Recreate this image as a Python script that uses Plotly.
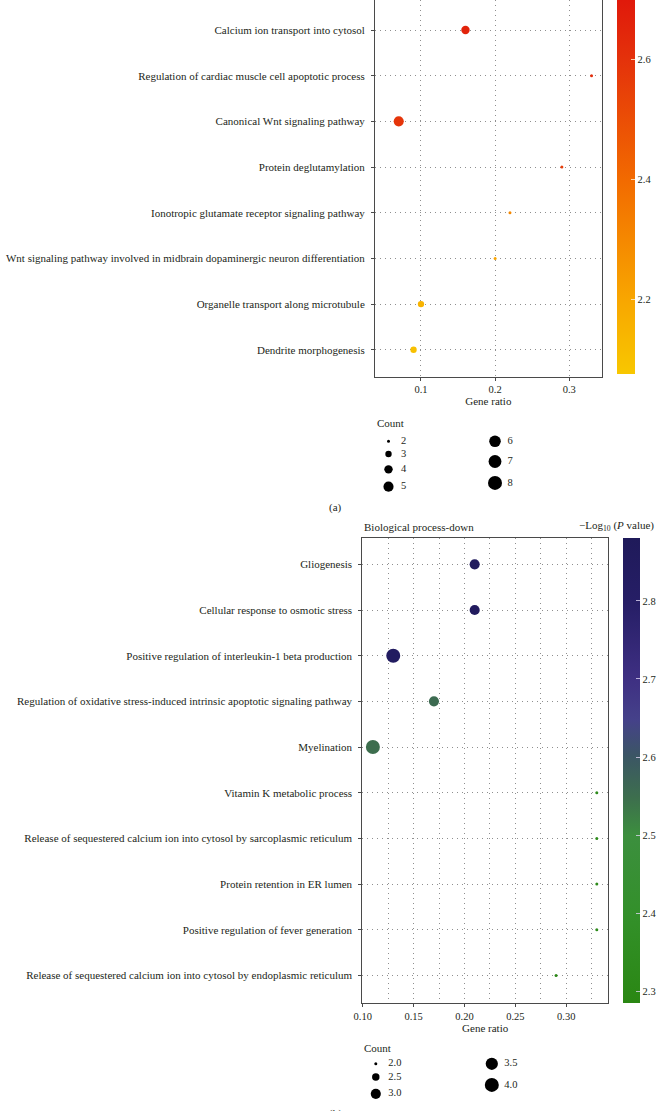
import math
import plotly.graph_objects as go

W, H = 658, 1111
FONT = "Liberation Serif"
TXT = "#231f20"
GRID = "#8f8f8f"
AXC = "#4a4a4a"

# ---------------- panel (a) data (listed top -> bottom) ----------------
terms_a = [
    "Calcium ion transport into cytosol",
    "Regulation of cardiac muscle cell apoptotic process",
    "Canonical Wnt signaling pathway",
    "Protein deglutamylation",
    "Ionotropic glutamate receptor signaling pathway",
    "Wnt signaling pathway involved in midbrain dopaminergic neuron differentiation",
    "Organelle transport along microtubule",
    "Dendrite morphogenesis",
]
ratio_a = [0.16, 0.33, 0.07, 0.29, 0.22, 0.20, 0.10, 0.09]
count_a = [4, 2, 5, 2, 2, 2, 3, 3]
logp_a = [2.66, 2.62, 2.59, 2.56, 2.30, 2.21, 2.15, 2.10]
legend_counts_a = [2, 3, 4, 5, 6, 7, 8]
xticks_a = [0.1, 0.2, 0.3]
cticks_a = [2.2, 2.4, 2.6]

# ---------------- panel (b) data (listed top -> bottom) ----------------
title_b = "Biological process-down"
terms_b = [
    "Gliogenesis",
    "Cellular response to osmotic stress",
    "Positive regulation of interleukin-1 beta production",
    "Regulation of oxidative stress-induced intrinsic apoptotic signaling pathway",
    "Myelination",
    "Vitamin K metabolic process",
    "Release of sequestered calcium ion into cytosol by sarcoplasmic reticulum",
    "Protein retention in ER lumen",
    "Positive regulation of fever generation",
    "Release of sequestered calcium ion into cytosol by endoplasmic reticulum",
]
ratio_b = [0.21, 0.21, 0.13, 0.17, 0.11, 0.33, 0.33, 0.33, 0.33, 0.29]
count_b = [3, 3, 4, 3, 4, 2, 2, 2, 2, 2]
logp_b = [2.86, 2.85, 2.84, 2.555, 2.55, 2.33, 2.33, 2.33, 2.33, 2.30]
legend_counts_b = [2.0, 2.5, 3.0, 3.5, 4.0]
xticks_b = [0.10, 0.15, 0.20, 0.25, 0.30]
cticks_b = [2.3, 2.4, 2.5, 2.6, 2.7, 2.8]


# ---------------- helpers ----------------
def px_x(p):
    return p / W


def px_y(p):
    return 1 - p / H


def diam(c, lo, hi):
    # ggplot-like area scaling of point size (diameter in px)
    return math.sqrt(9 + (c - lo) / (hi - lo) * (196 - 9))


scale_a = [[0.0, "#f8c700"], [0.2, "#f8a600"], [0.52, "#f26a00"], [0.84, "#e4320b"], [1.0, "#e0190b"]]
scale_b = [[0.0, "#2a8713"], [0.19, "#33902a"], [0.36, "#3c8f3e"], [0.44, "#3d6f4d"],
           [0.53, "#3b5664"], [0.61, "#45418a"], [0.70, "#3e2f82"], [0.86, "#261e66"], [1.0, "#1f1a5a"]]

LAB = 11
TICK = 10.5

fig = go.Figure()

# main scatter traces
fig.add_trace(go.Scatter(
    x=ratio_a, y=terms_a, mode="markers", xaxis="x", yaxis="y", showlegend=False,
    marker=dict(size=[diam(c, min(legend_counts_a), max(legend_counts_a)) for c in count_a],
                color=logp_a, coloraxis="coloraxis", line=dict(width=0), opacity=1),
))
fig.add_trace(go.Scatter(
    x=ratio_b, y=terms_b, mode="markers", xaxis="x2", yaxis="y2", showlegend=False,
    marker=dict(size=[diam(c, min(legend_counts_b), max(legend_counts_b)) for c in count_b],
                color=logp_b, coloraxis="coloraxis2", line=dict(width=0), opacity=1),
))


# size legends drawn in hidden pixel-unit axes
def size_legend(counts, fmt, xa, ya, col2_x, first_gap):
    n1 = math.ceil(len(counts) / 2)
    cols = [counts[:n1], counts[n1:]]
    xs, ys, ds, labels = [], [], [], []
    for ci, col in enumerate(cols):
        cx = 13.5 if ci == 0 else col2_x
        y = 8.3 + first_gap
        prev = None
        for c in col:
            d = diam(c, min(counts), max(counts))
            if prev is not None:
                y += (prev + d) / 2 + 8
            xs.append(cx)
            ys.append(y)
            ds.append(d)
            labels.append(fmt.format(c))
            prev = d
    fig.add_trace(go.Scatter(x=xs, y=ys, mode="markers", xaxis=xa, yaxis=ya, showlegend=False,
                             hoverinfo="skip",
                             marker=dict(size=ds, color="#000000", opacity=1, line=dict(width=0))))
    fig.add_trace(go.Scatter(x=[v + 12.5 for v in xs], y=ys, mode="text", text=labels,
                             textposition="middle right", xaxis=xa, yaxis=ya, showlegend=False,
                             hoverinfo="skip", textfont=dict(family=FONT, size=TICK, color=TXT)))


size_legend(legend_counts_a, "{:d}", "x3", "y3", 120, 18)
size_legend(legend_counts_b, "{:.1f}", "x4", "y4", 129.5, 15.5)

tickfont = dict(family=FONT, size=TICK, color=TXT)
labfont = dict(family=FONT, size=LAB, color=TXT)

common_grid = dict(showgrid=True, gridcolor=GRID, gridwidth=1, griddash="1px,4px", zeroline=False)

# top panel box: x 375..601.7, y 0..376.7
fig.update_layout(
    xaxis=dict(domain=[px_x(375), px_x(601.7)], range=[0.038, 0.3437], anchor="y",
               tickvals=xticks_a, ticktext=["{:.1f}".format(v) for v in xticks_a],
               showline=True, linecolor=AXC, linewidth=1, mirror=False,
               ticks="outside", ticklen=3, tickcolor=AXC, tickfont=tickfont,
               title=dict(text="Gene ratio", font=labfont, standoff=0), **common_grid),
    yaxis=dict(domain=[px_y(376.7), 1], range=[len(terms_a) - 1 + 0.59, -0.657], anchor="x",
               type="category", categoryorder="array", categoryarray=terms_a,
               showline=True, linecolor=AXC, linewidth=1, mirror=True, ticklabelstandoff=4,
               ticks="outside", ticklen=3, tickcolor=AXC, tickfont=labfont, **common_grid),
    # bottom panel box: x 362.3..608, y 538.3..1003.3
    xaxis2=dict(domain=[px_x(362.3), px_x(608)], range=[0.0996, 0.341], anchor="y2",
                tickvals=xticks_b, ticktext=["{:.2f}".format(v) for v in xticks_b],
                minor=dict(tickvals=[v + 0.025 for v in xticks_b], showgrid=True, gridcolor=GRID,
                           griddash="1px,4px", gridwidth=1, ticks=""),
                showline=True, linecolor=AXC, linewidth=1, mirror=True,
                ticks="outside", ticklen=3, tickcolor=AXC, tickfont=tickfont,
                title=dict(text="Gene ratio", font=labfont, standoff=0), **common_grid),
    yaxis2=dict(domain=[px_y(1003.3), px_y(538.3)], range=[len(terms_b) - 1 + 0.61, -0.57], anchor="x2",
                type="category", categoryorder="array", categoryarray=terms_b,
                showline=True, linecolor=AXC, linewidth=1, mirror=True, ticklabelstandoff=4,
                ticks="outside", ticklen=3, tickcolor=AXC, tickfont=labfont, **common_grid),
    # legend axes (1 unit = 1 px)
    xaxis3=dict(domain=[px_x(375), px_x(600)], range=[0, 225], visible=False, anchor="y3", fixedrange=True),
    yaxis3=dict(domain=[px_y(500), px_y(415)], range=[85, 0], visible=False, anchor="x3", fixedrange=True),
    xaxis4=dict(domain=[px_x(362.3), px_x(587.3)], range=[0, 225], visible=False, anchor="y4", fixedrange=True),
    yaxis4=dict(domain=[px_y(1105), px_y(1040)], range=[65, 0], visible=False, anchor="x4", fixedrange=True),
    coloraxis=dict(colorscale=scale_a, cmin=2.075, cmax=2.699,
                   colorbar=dict(x=px_x(616.7), xanchor="left", xpad=0, thickness=18.3,
                                 lenmode="pixels", len=374, y=1, yanchor="top", ypad=0,
                                 tickvals=cticks_a, ticktext=["{:.1f}".format(v) for v in cticks_a],
                                 ticks="inside", ticklen=4, tickcolor="rgba(255,235,200,0.85)",
                                 outlinewidth=0, tickfont=tickfont)),
    coloraxis2=dict(colorscale=scale_b, cmin=2.285, cmax=2.88,
                    colorbar=dict(x=px_x(622.7), xanchor="left", xpad=0, thickness=16.6,
                                  lenmode="pixels", len=1003.3 - 538.3, y=px_y(538.3), yanchor="top", ypad=0,
                                  tickvals=cticks_b, ticktext=["{:.1f}".format(v) for v in cticks_b],
                                  ticks="inside", ticklen=4, tickcolor="rgba(220,210,240,0.8)",
                                  outlinewidth=0, tickfont=tickfont)),
    width=W, height=H, margin=dict(l=0, r=0, t=0, b=0, autoexpand=False),
    paper_bgcolor="white", plot_bgcolor="white",
    font=dict(family=FONT, size=10, color=TXT),
    showlegend=False,
)

annots = [
    dict(text="Count", x=0, y=8.3, xref="x3", yref="y3", xanchor="left", yanchor="middle",
         showarrow=False, font=labfont),
    dict(text="Count", x=0, y=8.3, xref="x4", yref="y4", xanchor="left", yanchor="middle",
         showarrow=False, font=labfont),
    dict(text="(a)", x=px_x(335), y=px_y(507), xref="paper", yref="paper", xanchor="center",
         yanchor="middle", showarrow=False, font=labfont),
    dict(text="(b)", x=px_x(335), y=px_y(1113), xref="paper", yref="paper", xanchor="center",
         yanchor="middle", showarrow=False, font=labfont),
    dict(text=title_b, x=px_x(361.7), y=px_y(527), xref="paper", yref="paper", xanchor="left",
         yanchor="middle", showarrow=False, font=labfont),
    dict(text="\u2212Log<sub>10</sub> (<i>P</i> value)", x=px_x(577), y=px_y(526), xref="paper", yref="paper",
         xanchor="left", yanchor="middle", showarrow=False, font=labfont),
]
fig.update_layout(annotations=annots)

# remove the default 8px page margin so the figure sits at the window's top-left corner
fig.write_html("out.html", config={"displayModeBar": False},
               post_script="document.body.style.margin='0';")
